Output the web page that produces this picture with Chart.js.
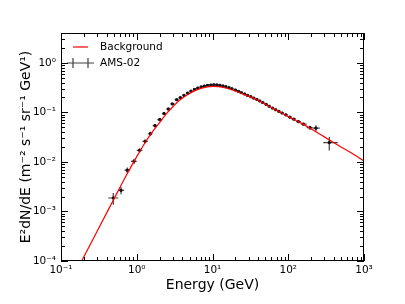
<!DOCTYPE html>
<html>
<head>
<meta charset="utf-8">
<script src="https://cdn.jsdelivr.net/npm/chart.js@4.4.0/dist/chart.umd.min.js"></script>
<style>
  html, body { margin: 0; padding: 0; background: #fff; }
</style>
</head>
<body>
<canvas id="c" width="405" height="304"></canvas>
<script>
// AMS-02 data points (energy in GeV, E^2 dN/dE)
const energy = [0.49,0.62,0.75,0.92,1.09,1.29,1.51,1.74,2.01,2.29,2.61,2.95,3.37,3.76,4.2,4.7,5.2,5.8,6.4,7.1,
  7.8,8.6,9.5,10.4,11.4,12.5,13.7,15.0,16.5,18.0,20.0,22.0,24.0,26.5,29.0,32.0,35.0,38.5,42,46,
  51,56,62,68,75,83,93,105,118,136,158,194,232,348];
const eLow = [0.42,0.57,0.69,0.84,1.0,1.19,1.4,1.62,1.87,2.15,2.45,2.78,3.16,3.56,4.0,4.45,4.95,5.5,6.1,6.75,
  7.45,8.2,9.05,9.95,10.9,11.9,13.1,14.3,15.7,17.2,19.0,21.0,23.0,25.2,27.7,30.5,33.5,36.7,40.2,44,
  48.5,53.5,59,65,71.5,79,88,99,111,127,147,175,210,290];
const eHigh = [0.57,0.68,0.82,1.0,1.19,1.4,1.62,1.87,2.15,2.45,2.78,3.16,3.56,4.0,4.45,4.95,5.5,6.1,6.75,7.45,
  8.2,9.05,9.95,10.9,11.9,13.1,14.3,15.7,17.2,19.0,21.0,23.0,25.2,27.7,30.5,33.5,36.7,40.2,44,48.5,
  53.5,59,65,71.5,79,88,99,111,127,147,175,210,260,450];
const flux = [0.00187,0.00267,0.0068,0.0103,0.0171,0.026,0.037,0.054,0.0716,0.0946,0.117,0.148,0.18,0.198,0.22,0.245,0.268,0.29,0.31,0.327,
  0.34,0.35,0.357,0.36,0.358,0.352,0.342,0.33,0.315,0.3,0.283,0.266,0.25,0.235,0.22,0.207,0.194,0.182,0.17,0.158,
  0.145,0.133,0.122,0.113,0.105,0.097,0.089,0.08,0.073,0.065,0.058,0.049,0.048,0.0245];
const fluxErr = [0.0005,0.00045,0.0009,0.0012,0.0018,0.0025,0.0034,0.0045,0.0055,0.0065,0.0075,0.0085,0.0095,0.01,0.011,0.012,0.013,0.014,0.014,0.015,
  0.015,0.015,0.015,0.015,0.015,0.015,0.014,0.014,0.013,0.012,0.012,0.011,0.011,0.01,0.0095,0.009,0.0085,0.008,0.0075,0.007,
  0.0065,0.006,0.0056,0.0052,0.005,0.0047,0.0044,0.0041,0.0038,0.0036,0.0036,0.005,0.007,0.0075];

// background model curve
const bgEnergy = [0.15,0.3,0.5,0.7,1.0,1.3,1.6,2.0,2.5,3.0,3.7,4.5,5.5,7,8.5,10,12,15,20,25,31.5,42,57,75,100,150,194,300,450,650,1000];
const bgFlux = [5.2e-5,4.0e-4,1.79e-3,4.8e-3,0.0128,0.025,0.04,0.062,0.097,0.13,0.178,0.22,0.262,0.305,0.328,0.336,0.332,0.31,0.27,0.235,
  0.205,0.167,0.13,0.104,0.082,0.06,0.048,0.032,0.022,0.0158,0.0104];

const xTicks = [0.1, 1, 10, 100, 1000];
const yTicks = [1e-4, 1e-3, 1e-2, 1e-1, 1];

const supMap = {'-': '\u207B', '0': '\u2070', '1': '\u00B9', '2': '\u00B2', '3': '\u00B3', '4': '\u2074'};
function powLabel(v) {
  const e = Math.round(Math.log10(v));
  return '10' + String(e).split('').map(c => supMap[c]).join('');
}

const FONT = 'DejaVu Sans';

// error bars for the AMS-02 points
const errorBars = {
  id: 'errorBars',
  beforeDatasetsDraw(chart) {
    const {ctx, scales: {x, y}} = chart;
    ctx.save();
    ctx.beginPath();
    ctx.rect(chart.chartArea.left, chart.chartArea.top, chart.chartArea.width, chart.chartArea.height);
    ctx.clip();
    ctx.strokeStyle = 'rgba(30,30,30,0.85)';
    ctx.lineWidth = 1.2;
    for (let i = 0; i < energy.length; i++) {
      const px = x.getPixelForValue(energy[i]);
      const py = y.getPixelForValue(flux[i]);
      ctx.beginPath();
      ctx.moveTo(x.getPixelForValue(eLow[i]), py);
      ctx.lineTo(x.getPixelForValue(eHigh[i]), py);
      ctx.moveTo(px, y.getPixelForValue(flux[i] - fluxErr[i]));
      ctx.lineTo(px, y.getPixelForValue(flux[i] + fluxErr[i]));
      ctx.stroke();
    }
    ctx.restore();
  }
};

// matplotlib-like frame with inward ticks, plus the legend
const frameAndLegend = {
  id: 'frameAndLegend',
  afterDraw(chart) {
    const {ctx, chartArea: a, scales: {x, y}} = chart;
    ctx.save();
    ctx.strokeStyle = '#000';
    ctx.lineWidth = 1;
    ctx.strokeRect(a.left + 0.5, a.top + 0.5, a.right - a.left - 1, a.bottom - a.top - 1);

    ctx.beginPath();
    for (let d = -1; d <= 3; d++) {
      for (let k = 1; k <= 9; k++) {
        const v = k * Math.pow(10, d);
        if (v < x.min * 0.999 || v > x.max * 1.001) continue;
        const len = k === 1 ? 7 : 4;
        const px = Math.round(x.getPixelForValue(v)) + 0.5;
        ctx.moveTo(px, a.bottom); ctx.lineTo(px, a.bottom - len);
        ctx.moveTo(px, a.top); ctx.lineTo(px, a.top + len);
      }
    }
    for (let d = -4; d <= 0; d++) {
      for (let k = 1; k <= 9; k++) {
        const v = k * Math.pow(10, d);
        if (v < y.min * 0.999 || v > y.max * 1.001) continue;
        const len = k === 1 ? 7 : 4;
        const py = Math.round(y.getPixelForValue(v)) + 0.5;
        ctx.moveTo(a.left, py); ctx.lineTo(a.left + len, py);
        ctx.moveTo(a.right, py); ctx.lineTo(a.right - len, py);
      }
    }
    ctx.stroke();

    // legend
    const lx = a.left + 12, ty = a.top + 14;
    ctx.strokeStyle = '#ff0000';
    ctx.lineWidth = 1.2;
    ctx.beginPath();
    ctx.moveTo(lx, ty); ctx.lineTo(lx + 15, ty);
    ctx.stroke();
    const ey = ty + 16;
    ctx.strokeStyle = 'rgba(30,30,30,0.85)';
    ctx.beginPath();
    ctx.moveTo(lx - 6, ey); ctx.lineTo(lx + 21, ey);
    ctx.moveTo(lx, ey - 5); ctx.lineTo(lx, ey + 5);
    ctx.moveTo(lx + 15, ey - 5); ctx.lineTo(lx + 15, ey + 5);
    ctx.stroke();
    ctx.fillStyle = '#000';
    ctx.font = '10.5px "' + FONT + '"';
    ctx.textBaseline = 'middle';
    ctx.fillText('Background', lx + 27, ty);
    ctx.fillText('AMS-02', lx + 27, ey);
    ctx.restore();
  }
};

Chart.defaults.color = '#000';
Chart.defaults.font.family = FONT;

new Chart(document.getElementById('c'), {
  type: 'scatter',
  data: {
    datasets: [
      {
        label: 'Background',
        type: 'line',
        data: bgEnergy.map((e, i) => ({x: e, y: bgFlux[i]})),
        borderColor: '#ff0000',
        borderWidth: 1.2,
        pointRadius: 0,
        cubicInterpolationMode: 'monotone',
        fill: false
      },
      {
        label: 'AMS-02',
        data: energy.map((e, i) => ({x: e, y: flux[i]})),
        backgroundColor: '#111',
        borderColor: '#111',
        pointRadius: 1.4,
        pointStyle: 'rect'
      }
    ]
  },
  options: {
    responsive: false,
    animation: false,
    devicePixelRatio: 1,
    layout: {padding: {top: 33, right: 41, left: 0, bottom: 0}},
    plugins: {legend: {display: false}, tooltip: {enabled: false}},
    scales: {
      x: {
        type: 'logarithmic',
        min: 0.1,
        max: 1000,
        afterBuildTicks: s => { s.ticks = xTicks.map(v => ({value: v})); },
        afterFit: s => { s.height = 43; },
        grid: {display: false, drawTicks: false},
        border: {display: false},
        ticks: {
          callback: v => powLabel(v),
          maxRotation: 0,
          autoSkip: false,
          padding: 3,
          font: {size: 10.5}
        },
        title: {
          display: true,
          text: 'Energy (GeV)',
          font: {size: 14},
          padding: {top: 0, bottom: 10}
        }
      },
      y: {
        type: 'logarithmic',
        min: 1e-4,
        max: 4,
        afterBuildTicks: s => { s.ticks = yTicks.map(v => ({value: v})); },
        afterFit: s => { s.width = 61; },
        grid: {display: false, drawTicks: false},
        border: {display: false},
        ticks: {
          callback: v => powLabel(v),
          autoSkip: false,
          padding: 5,
          font: {size: 10.5}
        },
        title: {
          display: true,
          text: 'E\u00B2dN/dE (m\u207B\u00B2 s\u207B\u00B9 sr\u207B\u00B9 GeV\u00B9)',
          font: {size: 14},
          padding: {top: 18, bottom: 0}
        }
      }
    }
  },
  plugins: [errorBars, frameAndLegend]
});
</script>
</body>
</html>
